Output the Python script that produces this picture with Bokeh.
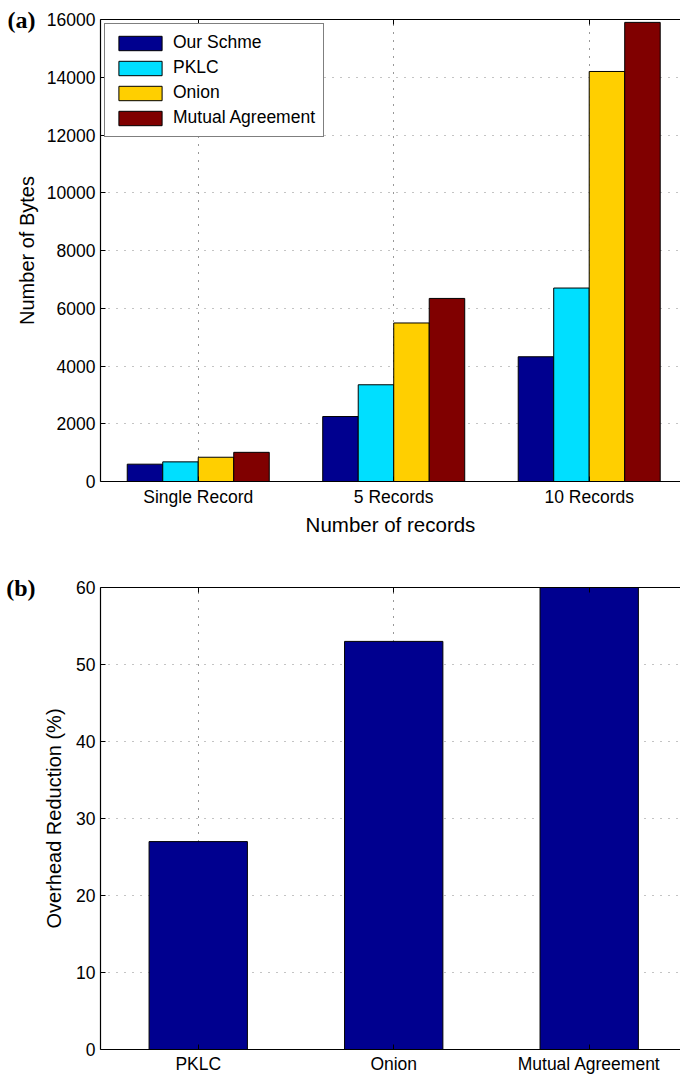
from bokeh.plotting import figure
from bokeh.layouts import column
from bokeh.models import Range1d, LinearAxis, FixedTicker
from bokeh.embed import file_html
from bokeh.resources import INLINE

# ---- data ----
categories_a = ["Single Record", "5 Records", "10 Records"]
series_names = ["Our Schme", "PKLC", "Onion", "Mutual Agreement"]
our_scheme = [600, 2250, 4320]
pklc = [680, 3350, 6700]
onion = [840, 5490, 14200]
mutual = [1010, 6340, 15900]
yticks_a = [0, 2000, 4000, 6000, 8000, 10000, 12000, 14000, 16000]

categories_b = ["PKLC", "Onion", "Mutual Agreement"]
reduction = [27, 53, 60]
yticks_b = [0, 10, 20, 30, 40, 50, 60]

colors = ["#00008F", "#00DFFF", "#FFCF00", "#800000"]
FONT = "Liberation Sans"
TICK = "17.5px"


def add_panel_tag(p, text, ytop, standoff):
    # an extra, line-less left axis whose only tick label is the panel tag
    tag = LinearAxis(ticker=FixedTicker(ticks=[ytop]), major_label_overrides={ytop: text},
                     axis_line_color=None, major_tick_line_color=None,
                     minor_tick_line_color=None, major_tick_in=0, major_tick_out=0,
                     minor_tick_in=0, minor_tick_out=0, major_label_standoff=standoff,
                     major_label_text_font="Liberation Serif",
                     major_label_text_font_style="bold",
                     major_label_text_font_size="24px", major_label_text_color="black")
    p.add_layout(tag, "left")


def style_axes(p, xcats):
    pos = [1, 2, 3]
    p.xaxis.ticker = FixedTicker(ticks=pos)
    p.xaxis.major_label_overrides = {i: c for i, c in zip(pos, xcats)}
    p.xgrid.ticker = FixedTicker(ticks=pos)
    for ax in p.xaxis + p.yaxis:
        ax.major_tick_in = 5
        ax.major_tick_out = 0
        ax.minor_tick_in = 0
        ax.minor_tick_out = 0
        ax.axis_line_color = "black"
        ax.axis_line_width = 1.2
        ax.major_tick_line_color = "black"
        ax.major_label_text_font = FONT
        ax.major_label_text_font_size = TICK
        ax.major_label_text_color = "black"
        ax.axis_label_text_font = FONT
        ax.axis_label_text_font_style = "normal"
        ax.axis_label_text_color = "black"
    p.yaxis.major_label_standoff = 5
    p.xgrid.grid_line_color = "#333333"
    p.ygrid.grid_line_color = "#888888"
    p.xgrid.grid_line_dash = "1 7"
    p.ygrid.grid_line_dash = "1 7"
    p.outline_line_color = None
    top = LinearAxis(ticker=FixedTicker(ticks=pos), major_label_overrides={i: "" for i in pos},
                     major_label_text_font_size="1px", major_label_standoff=0,
                     major_tick_in=5, major_tick_out=0, minor_tick_in=0, minor_tick_out=0,
                     axis_line_color="black", axis_line_width=1.2)
    p.add_layout(top, "above")


# ---- panel (a) ----
p1 = figure(width=680, height=570, output_backend="svg", toolbar_location=None,
            x_range=Range1d(0.5, 3.467), y_range=Range1d(0, 16000),
            min_border_left=100, min_border_right=0, min_border_top=19, min_border_bottom=89)
style_axes(p1, categories_a)
p1.yaxis.ticker = FixedTicker(ticks=yticks_a)
p1.ygrid.ticker = FixedTicker(ticks=yticks_a)
p1.yaxis.axis_label = "Number of Bytes"
p1.yaxis.axis_label_text_font_size = "20px"
p1.yaxis.axis_label_standoff = 6
xb1 = p1.below[0]
xb1.axis_label = "Number of records"
xb1.axis_label_text_font_size = "20.5px"
xb1.major_label_standoff = 5
xb1.axis_label_standoff = 3

bw = 0.1816
base = [1, 2, 3]
for k, (vals, name, col) in enumerate(zip([our_scheme, pklc, onion, mutual], series_names, colors)):
    off = (k - 1.5) * bw
    xs = [b + off for b in base]
    p1.vbar(x=xs, top=vals, width=bw, bottom=0, fill_color=col, line_color="black",
            line_width=1, legend_label=name)

lg = p1.legend[0]
lg.location = "top_left"
lg.margin = 4
lg.padding = 8
lg.spacing = 4
lg.glyph_width = 54
lg.glyph_height = 18
lg.label_height = 18
lg.label_standoff = 6
lg.label_text_font = FONT
lg.label_text_font_size = "17.5px"
lg.label_text_color = "black"
lg.border_line_color = "black"
lg.border_line_width = 1
lg.background_fill_alpha = 1.0

add_panel_tag(p1, "(a)", yticks_a[-1], -23)

# ---- panel (b) ----
p2 = figure(width=680, height=507, output_backend="svg", toolbar_location=None,
            x_range=Range1d(0.5, 3.467), y_range=Range1d(0, 60),
            min_border_left=100, min_border_right=0, min_border_top=17, min_border_bottom=28)
style_axes(p2, categories_b)
p2.yaxis.ticker = FixedTicker(ticks=yticks_b)
p2.ygrid.ticker = FixedTicker(ticks=yticks_b)
p2.yaxis.axis_label = "Overhead Reduction (%)"
p2.yaxis.axis_label_text_font_size = "20px"
p2.yaxis.axis_label_standoff = 8
p2.below[0].major_label_standoff = 4
p2.vbar(x=[1, 2, 3], top=reduction, width=0.503, bottom=0, fill_color=colors[0],
        line_color="black", line_width=1)
add_panel_tag(p2, "(b)", yticks_b[-1], 5)

layout = column(p1, p2, spacing=0)
open("out.html", "w").write(file_html(layout, INLINE))
